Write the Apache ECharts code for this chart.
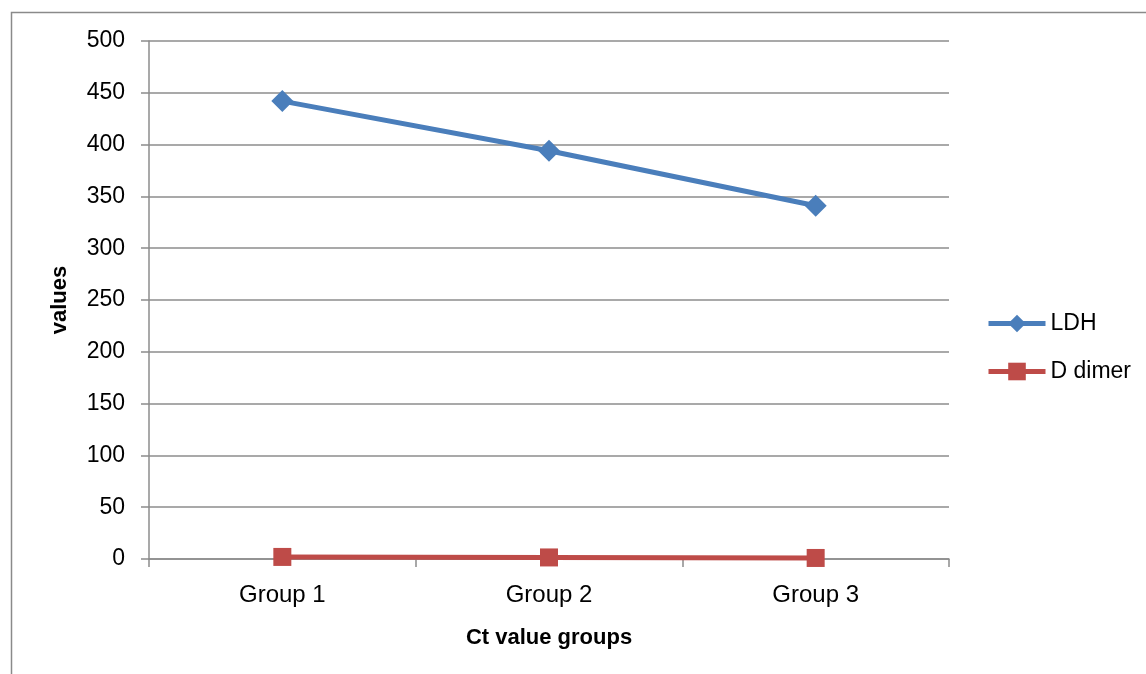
<!DOCTYPE html>
<html>
<head>
<meta charset="utf-8">
<style>
  html, body { margin: 0; padding: 0; background: #ffffff; }
  #chart { width: 1146px; height: 674px; }
</style>
<script src="https://cdn.jsdelivr.net/npm/echarts@6/dist/echarts.min.js"></script>
</head>
<body>
<div id="chart"></div>
<script>
// Ct value groups and the mean marker levels per group
const categories = ['Group 1', 'Group 2', 'Group 3'];
const ldhValues = [442, 394, 341];
const dDimerValues = [2, 1.5, 1];
const yTicks = { min: 0, max: 500, interval: 50 };

const FONT = '"Liberation Sans", Arial, sans-serif';
const GRID_GRAY = '#8c8c8c';
const BLUE = '#4a7ebb';
const RED = '#be4b48';

const chart = echarts.init(document.getElementById('chart'), null, { renderer: 'canvas' });

chart.setOption({
  backgroundColor: '#ffffff',
  animation: false,
  graphic: [{
    type: 'rect',
    left: 9, top: 10,
    shape: { width: 1200, height: 700 },
    style: { fill: 'none', stroke: '#8a8a8a', lineWidth: 1.5 },
    silent: true
  }],
  grid: { left: 149, right: 197, top: 41, bottom: 115, containLabel: false },
  legend: {
    orient: 'vertical',
    left: 981,
    top: 307,
    itemWidth: 57,
    itemHeight: 22,
    itemGap: 25,
    textStyle: { fontFamily: FONT, fontSize: 23, color: '#000' },
    data: [
      { name: 'LDH', itemStyle: { color: BLUE }, lineStyle: { color: BLUE, width: 5 } },
      { name: 'D dimer', itemStyle: { color: RED }, lineStyle: { color: RED, width: 5 } }
    ]
  },
  xAxis: {
    type: 'category',
    data: categories,
    boundaryGap: true,
    name: 'Ct value groups',
    nameLocation: 'middle',
    nameGap: 68,
    nameTextStyle: { fontFamily: FONT, fontSize: 22, fontWeight: 'bold', color: '#000' },
    axisLine: { show: true, lineStyle: { color: GRID_GRAY, width: 1.5 } },
    axisTick: { show: true, alignWithLabel: false, length: 8, inside: false, lineStyle: { color: GRID_GRAY, width: 1.5 } },
    axisLabel: { fontFamily: FONT, fontSize: 24, color: '#000', margin: 24 },
    splitLine: { show: false }
  },
  yAxis: {
    type: 'value',
    min: yTicks.min,
    max: yTicks.max,
    interval: yTicks.interval,
    name: 'values',
    nameLocation: 'middle',
    nameGap: 78,
    nameTextStyle: { fontFamily: FONT, fontSize: 22, fontWeight: 'bold', color: '#000' },
    axisLine: { show: true, lineStyle: { color: GRID_GRAY, width: 1.5 } },
    axisTick: { show: true, length: 8, inside: false, lineStyle: { color: GRID_GRAY, width: 1.5 } },
    axisLabel: { fontFamily: FONT, fontSize: 23, color: '#000', margin: 24 },
    splitLine: { show: true, lineStyle: { color: GRID_GRAY, width: 1.5 } }
  },
  series: [
    {
      name: 'LDH',
      type: 'line',
      data: ldhValues,
      symbol: 'diamond',
      symbolSize: 22,
      lineStyle: { color: BLUE, width: 5 },
      itemStyle: { color: BLUE },
      z: 3
    },
    {
      name: 'D dimer',
      type: 'line',
      data: dDimerValues,
      symbol: 'rect',
      symbolSize: 18,
      lineStyle: { color: RED, width: 5 },
      itemStyle: { color: RED },
      z: 3
    }
  ]
});
</script>
</body>
</html>
